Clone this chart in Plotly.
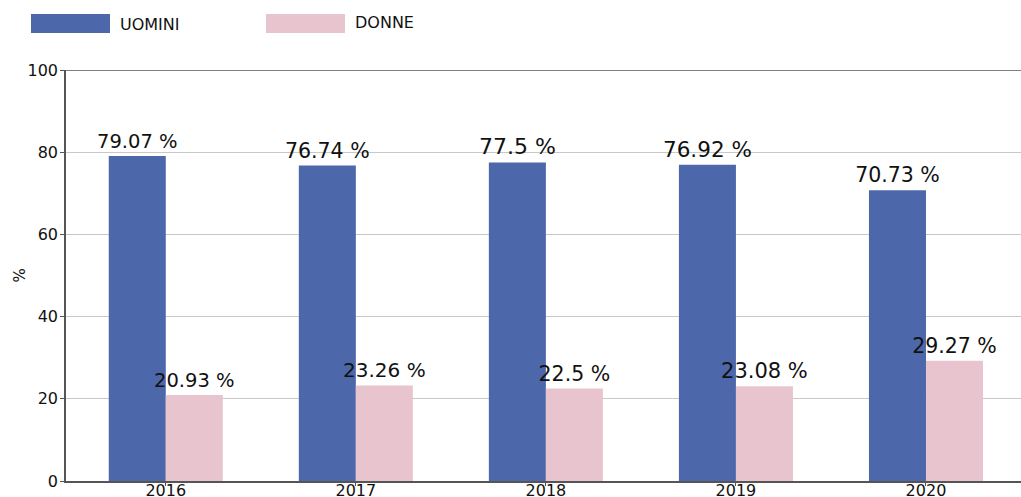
import plotly.graph_objects as go

# Data
years = ["2016", "2017", "2018", "2019", "2020"]
uomini = [79.07, 76.74, 77.5, 76.92, 70.73]
donne = [20.93, 23.26, 22.5, 23.08, 29.27]
series_names = ["UOMINI", "DONNE"]

# Label sizes per bar
uomini_label_sizes = [19.5, 20.5, 22, 21.5, 20.5]
donne_label_sizes = [19.5, 20, 20.5, 21, 20.5]

BLUE = "#4C67AA"
PINK = "#E8C4CE"
FONT = "DejaVu Sans, Verdana, sans-serif"

fig = go.Figure()
for name, vals, color, sizes in [
    (series_names[0], uomini, BLUE, uomini_label_sizes),
    (series_names[1], donne, PINK, donne_label_sizes),
]:
    fig.add_trace(go.Bar(
        x=years, y=vals, name=name,
        marker=dict(color=color, line=dict(width=0)),
        text=[f"{v} %" for v in vals],
        textposition="outside",
        constraintext="none",
        cliponaxis=False,
        textfont=dict(family=FONT, size=sizes, color="#111111"),
        showlegend=False,
    ))

# Legend drawn as wide swatches with labels
legend_items = [
    (series_names[0], BLUE, 31, 118, 24.5),
    (series_names[1], PINK, 266, 353, 22.5),
]
for name, color, x0, tx, ty in legend_items:
    fig.add_shape(type="rect", xref="paper", yref="paper",
                  x0=(x0 - 66) / 955, x1=(x0 + 79 - 66) / 955,
                  y0=(481 - 33) / 411, y1=(481 - 14) / 411,
                  line=dict(width=0), fillcolor=color)
    fig.add_annotation(xref="paper", yref="paper",
                       x=(tx - 66) / 955, y=(481 - ty) / 411,
                       text=name, showarrow=False, xanchor="left", yanchor="middle",
                       font=dict(family=FONT, size=16, color="#111111"))

# Y axis title, rotated
fig.add_annotation(xref="paper", yref="paper", x=(19 - 66) / 955, y=0.5,
                   text="%", textangle=-90, showarrow=False,
                   xanchor="center", yanchor="middle",
                   font=dict(family=FONT, size=15, color="#111111"))

# Top border line at 100
fig.add_shape(type="line", xref="paper", yref="y", x0=0, x1=1, y0=100, y1=100,
              line=dict(color="#000000", width=1))

fig.update_layout(
    width=1021, height=497,
    margin=dict(l=66, r=0, t=70, b=16, autoexpand=False),
    paper_bgcolor="white", plot_bgcolor="white",
    barmode="group", bargap=0.4, bargroupgap=0,
    font=dict(family=FONT, size=16, color="#111111"),
    xaxis=dict(
        type="category", range=[-0.525, 4.5], automargin=False,
        showline=True, linecolor="#555555", linewidth=1.5,
        ticks="outside", ticklen=3, tickcolor="#555555",
        ticklabelstandoff=-9,
        showgrid=False, tickfont=dict(size=16),
    ),
    yaxis=dict(
        range=[0, 100], tickvals=[0, 20, 40, 60, 80, 100], automargin=False,
        showline=True, linecolor="#555555", linewidth=1.5,
        ticks="outside", ticklen=4, tickcolor="#555555",
        ticklabelstandoff=-1,
        showgrid=True, gridcolor="#c8c8c8", gridwidth=1,
        zeroline=False, tickfont=dict(size=16),
    ),
)

fig.write_html("out.html")
